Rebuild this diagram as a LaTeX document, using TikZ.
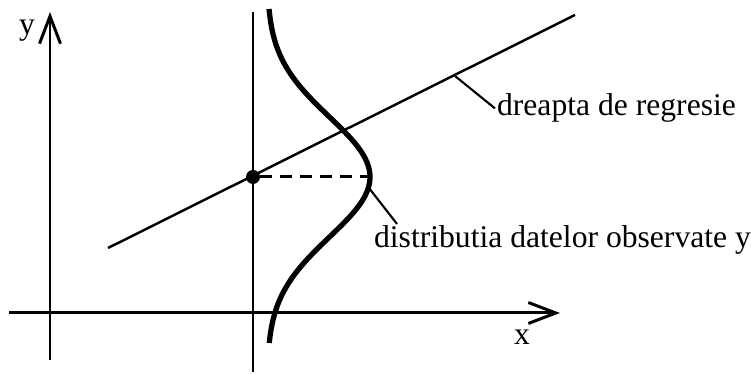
\documentclass[tikz,border=0pt]{standalone}
\usepackage{fontspec}
\setmainfont{Liberation Serif}
\usetikzlibrary{arrows.meta}

\begin{document}
\begin{tikzpicture}[x=0.02cm,y=0.02cm,
    every node/.style={font=\fontsize{18}{20}\selectfont, inner sep=1pt},
    axisline/.style={line width=1.7pt, -{Straight Barb[length=0.55cm,width=0.42cm]}},
    guideline/.style={line width=1.7pt},
    regline/.style={line width=1.4pt},
    leader/.style={line width=1.2pt},
    bell/.style={line width=3pt}]
  \useasboundingbox (0,0) rectangle (751,374);

  % axes
  \coordinate (xL) at (9,61);
  \coordinate (xR) at (560,61);
  \coordinate (yB) at (50,14);
  \coordinate (yT) at (50,362);
  \draw[axisline] (xL) -- (xR);
  \draw[axisline] (yB) -- (yT);
  \node[anchor=base] (xlbl) at (522,29) {x};
  \node[anchor=base] (ylbl) at (27,339) {y};

  % vertical through the mean
  \coordinate (vB) at (253,2);
  \coordinate (vT) at (253,362);
  \draw[guideline] (vB) -- (vT);

  % regression line
  \coordinate (rA) at (108,126);
  \coordinate (rB) at (575,359);
  \draw[regline] (rA) -- (rB);
  \node[circle, fill, minimum size=0.28cm, inner sep=0pt] (mean) at (253,197) {};

  % distribution of the observed data
  \draw[bell] plot[domain=-166:168, samples=90, smooth] ({267+103*exp(-((\x/60)^2)/2)}, {197+\x});
  \coordinate (peak) at (370,197);
  \draw[guideline, dash pattern=on 0.24cm off 0.16cm] (mean) -- (peak);

  % labels
  \coordinate (onreg) at (455,298);
  \node[anchor=base west] (reglbl) at (495,258) {dreapta de regresie};
  \draw[leader] (onreg) -- (reglbl.west);

  \coordinate (oncurve) at (369,186);
  \node[anchor=base west] (distlbl) at (372,126) {distributia datelor observate y};
  \draw[leader] (oncurve) -- ([xshift=0.5cm]distlbl.north west);
\end{tikzpicture}
\end{document}
